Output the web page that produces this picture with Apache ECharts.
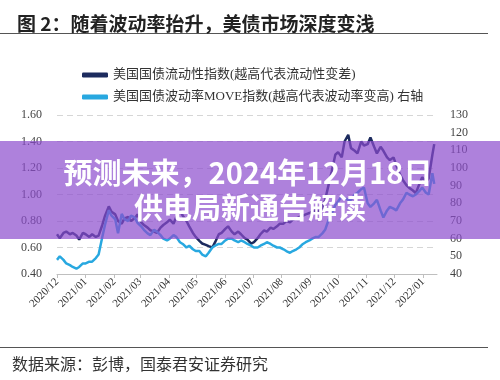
<!DOCTYPE html>
<html><head><meta charset="utf-8">
<script src="https://cdn.jsdelivr.net/npm/echarts@6/dist/echarts.min.js"></script>
<style>html,body{margin:0;padding:0;background:#fff}#c{width:500px;height:380px}</style>
</head><body><div id="c"></div>
<script>
const titleText = '图 2：随着波动率抬升，美债市场深度变浅';
const sourceText = '数据来源：彭博，国泰君安证券研究';
const overlayLine1 = '预测未来，2024年12月18日';
const overlayLine2 = '供电局新通告解读';
const seriesNames = ['美国国债流动性指数(越高代表流动性变差)', '美国国债波动率MOVE指数(越高代表波动率变高) 右轴'];

const dates = [
'2020-12-01','2020-12-04','2020-12-08','2020-12-11','2020-12-15','2020-12-18','2020-12-22','2020-12-25','2020-12-29',
'2021-01-01','2021-01-05','2021-01-08','2021-01-12','2021-01-15','2021-01-19','2021-01-22','2021-01-26','2021-01-29',
'2021-02-02','2021-02-05','2021-02-09','2021-02-12','2021-02-16','2021-02-19','2021-02-23','2021-02-26',
'2021-03-02','2021-03-05','2021-03-09','2021-03-12','2021-03-16','2021-03-19','2021-03-23','2021-03-26','2021-03-30',
'2021-04-02','2021-04-06','2021-04-09','2021-04-13','2021-04-16','2021-04-20','2021-04-23','2021-04-27','2021-04-30',
'2021-05-04','2021-05-07','2021-05-11','2021-05-14','2021-05-18','2021-05-21','2021-05-25','2021-05-28',
'2021-06-01','2021-06-04','2021-06-08','2021-06-11','2021-06-15','2021-06-18','2021-06-22','2021-06-25','2021-06-29',
'2021-07-02','2021-07-06','2021-07-09','2021-07-13','2021-07-16','2021-07-20','2021-07-23','2021-07-27','2021-07-30',
'2021-08-03','2021-08-06','2021-08-10','2021-08-13','2021-08-17','2021-08-20','2021-08-24','2021-08-27','2021-08-31',
'2021-09-03','2021-09-07','2021-09-10','2021-09-14','2021-09-17','2021-09-21','2021-09-24','2021-09-28',
'2021-10-01','2021-10-05','2021-10-08','2021-10-12','2021-10-15','2021-10-19','2021-10-22','2021-10-26','2021-10-29',
'2021-11-02','2021-11-05','2021-11-09','2021-11-12','2021-11-16','2021-11-19','2021-11-23','2021-11-26','2021-11-30',
'2021-12-03','2021-12-07','2021-12-10','2021-12-14','2021-12-17','2021-12-21','2021-12-24','2021-12-28','2021-12-31',
'2022-01-04','2022-01-07','2022-01-11','2022-01-13'
];

const liquidityIndex = [
0.70,0.67,0.71,0.72,0.70,0.71,0.69,0.66,0.71,
0.70,0.68,0.70,0.68,0.69,0.77,0.84,0.91,0.87,
0.85,0.80,0.78,0.82,0.83,0.80,0.82,0.85,
0.79,0.77,0.75,0.73,0.72,0.71,0.75,0.77,0.79,
0.81,0.78,0.83,0.88,0.84,0.80,0.76,0.71,0.68,
0.65,0.63,0.62,0.61,0.60,0.64,0.70,0.71,
0.74,0.76,0.72,0.70,0.72,0.70,0.67,0.66,0.63,
0.64,0.67,0.70,0.73,0.72,0.75,0.74,0.76,0.78,
0.78,0.80,0.79,0.81,0.82,0.83,0.84,0.85,0.86,
0.87,0.88,0.87,0.90,0.96,1.08,1.17,1.30,
1.32,1.28,1.40,1.45,1.35,1.33,1.31,1.40,1.37,
1.38,1.43,1.36,1.31,1.36,1.33,1.28,1.26,1.28,
1.22,1.15,1.11,1.07,1.05,1.03,1.01,1.08,1.13,
1.10,1.12,1.30,1.38
];

const moveIndex = [
48,50,48,46,45,44,43,44,46,
46,47,47,49,51,61,68,76,73,
71,63,74,71,70,73,72,69,
67,65,63,62,65,64,62,60,59,
60,62,61,58,57,55,56,54,53,
53,51,50,52,55,56,57,57,
59,60,60,59,58,59,58,57,56,
55,55,56,57,58,57,56,55,55,
54,53,52,53,54,55,57,58,59,
60,61,61,63,65,71,74,79,
81,84,83,82,82,85,86,88,89,
80,78,80,82,76,72,76,78,77,
76,80,82,86,85,84,85,87,89,
86,85,97,91
];

const NAVY = '#1c2b5e';
const CYAN = '#28a8e0';
const SERIF = '"Liberation Serif", "Noto Sans CJK SC", serif';
const CJK = '"Noto Sans CJK SC", sans-serif';

const chart = echarts.init(document.getElementById('c'), null, {renderer: 'canvas'});
const DAY = 86400000;
chart.setOption({
  animation: false,
  backgroundColor: '#ffffff',
  title: {
    text: titleText, left: 12, top: 9,
    textStyle: {fontFamily: CJK, fontSize: 19, fontWeight: 'bold', color: '#222'}
  },
  legend: {
    orient: 'vertical', left: 77, top: 62,
    itemWidth: 26, itemHeight: 5, itemGap: 6, icon: 'roundRect',
    textStyle: {fontFamily: SERIF, fontSize: 13, color: '#333', lineHeight: 16},
    data: seriesNames
  },
  grid: {left: 57, right: 63, top: 115, bottom: 106},
  xAxis: {
    type: 'time', min: '2020-12-01', max: '2022-01-16',
    minInterval: 28 * DAY, maxInterval: 31 * DAY,
    axisLine: {lineStyle: {color: '#bfbfbf'}},
    axisTick: {show: true, length: 4, lineStyle: {color: '#bfbfbf'}},
    splitLine: {show: false},
    axisLabel: {
      rotate: 45, fontSize: 11, fontFamily: SERIF, color: '#333', margin: 6,
      hideOverlap: false, showMaxLabel: false,
      formatter: function (v) {
        const d = new Date(v);
        return d.getFullYear() + '/' + String(d.getMonth() + 1).padStart(2, '0');
      }
    }
  },
  yAxis: [
    {
      type: 'value', min: 0.4, max: 1.6, interval: 0.2,
      axisLine: {show: false}, axisTick: {show: false},
      splitLine: {lineStyle: {type: [6, 4], color: '#d6d6d6'}},
      axisLabel: {formatter: v => v.toFixed(2), fontFamily: SERIF, fontSize: 12, color: '#444', margin: 15}
    },
    {
      type: 'value', min: 40, max: 130, interval: 10, position: 'right',
      axisLine: {show: false}, axisTick: {show: false}, splitLine: {show: false},
      axisLabel: {fontFamily: SERIF, fontSize: 12, color: '#444', margin: 13}
    }
  ],
  series: [
    {
      name: seriesNames[0], type: 'line', yAxisIndex: 0, showSymbol: false,
      data: dates.map((d, i) => [d, liquidityIndex[i]]),
      lineStyle: {width: 2.5, color: NAVY}, itemStyle: {color: NAVY}
    },
    {
      name: seriesNames[1], type: 'line', yAxisIndex: 1, showSymbol: false,
      data: dates.map((d, i) => [d, moveIndex[i]]),
      lineStyle: {width: 2.5, color: CYAN}, itemStyle: {color: CYAN}
    }
  ],
  graphic: [
    {type: 'line', shape: {x1: 0, y1: 33.5, x2: 488, y2: 33.5}, style: {stroke: '#555', lineWidth: 1}},
    {type: 'line', shape: {x1: 0, y1: 347.5, x2: 488, y2: 347.5}, style: {stroke: '#555', lineWidth: 1}},
    {type: 'text', x: 12, y: 364, style: {text: sourceText, font: '16px ' + CJK, fill: '#333', verticalAlign: 'middle'}},
    {type: 'rect', z: 100, shape: {x: 0, y: 141, width: 500, height: 98}, style: {fill: 'rgba(140,75,205,0.7)'}},
    {type: 'text', z: 101, x: 248, y: 173, style: {text: overlayLine1, font: 'bold 29px ' + CJK, fill: '#ffffff', align: 'center', verticalAlign: 'middle'}},
    {type: 'text', z: 101, x: 250, y: 208, style: {text: overlayLine2, font: 'bold 29px ' + CJK, fill: '#ffffff', align: 'center', verticalAlign: 'middle'}}
  ]
});
</script>
</body></html>
